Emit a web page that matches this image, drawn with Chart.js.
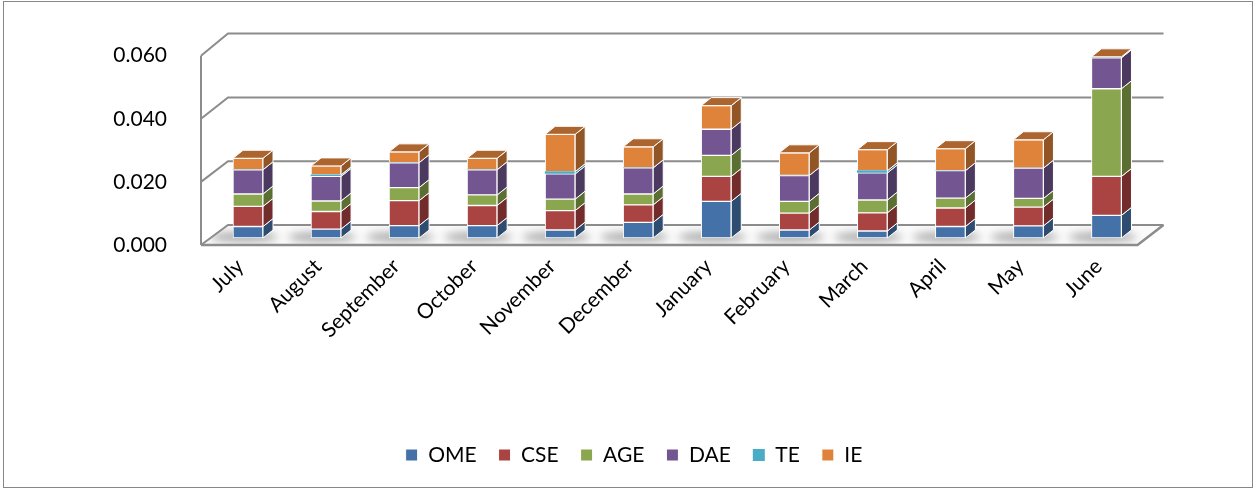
<!DOCTYPE html>
<html><head><meta charset="utf-8">
<script src="https://cdn.jsdelivr.net/npm/chart.js@4.4.0/dist/chart.umd.min.js"></script>
<style>html,body{margin:0;padding:0;background:#fff}canvas{display:block}</style>
</head><body>
<canvas id="c" width="1257" height="490"></canvas>
<script>
// ---- data ----
const months = ['July','August','September','October','November','December','January','February','March','April','May','June'];
const seriesNames = ['OME','CSE','AGE','DAE','TE','IE'];
const OME = [0.0036,0.0028,0.0039,0.0039,0.0025,0.0049,0.0115,0.0025,0.0022,0.0036,0.0038,0.0071];
const CSE = [0.0063,0.0055,0.0078,0.0063,0.0061,0.0055,0.0078,0.0053,0.0057,0.0058,0.0059,0.0122];
const AGE = [0.0039,0.0033,0.0041,0.0033,0.0036,0.0034,0.0066,0.0037,0.0040,0.0031,0.0027,0.0275];
const DAE = [0.0076,0.0077,0.0078,0.0079,0.0079,0.0082,0.0082,0.0081,0.0085,0.0086,0.0095,0.0097];
const TE  = [0,0.0005,0,0,0.0007,0,0,0,0.0007,0,0,0];
const IE  = [0.0036,0.0028,0.0034,0.0036,0.0117,0.0066,0.0074,0.0071,0.0066,0.0069,0.0089,0.0003];
const yTicks = [0, 0.02, 0.04, 0.06];

// ---- styles ----
const frontColors = ['#4472A8','#AA4442','#8AA64E','#735691','#4BACC6','#DF833B'];
const sideColors  = ['#2D4C70','#712C2B','#5C6F33','#4C3960','#31778A','#925626'];
const topColors   = ['#3A6292','#944040','#76904A','#634B7E','#3F93A8','#AC652E'];
const SIDE_DX = 10, SIDE_DY = -8;

const values = [OME, CSE, AGE, DAE, TE, IE];

const threeD = {
  id: 'threeD',
  beforeDraw(chart) {
    const c = chart.ctx;
    c.save();
    c.fillStyle = '#fff';
    c.fillRect(0, 0, chart.width, chart.height);
    c.strokeStyle = '#878787';
    c.lineWidth = 1;
    c.strokeRect(3.5, 1.5, chart.width - 8, chart.height - 4);
    c.restore();
  },
  beforeDatasetsDraw(chart) {
    const {ctx, chartArea: a, scales} = chart;
    const y = scales.y, yl = scales.yl, x = scales.x;
    const fl = a.left - 8, fr = a.right - 8, bl = a.left + 19, br = a.right + 18;
    const fy = v => yl.getPixelForValue(v);
    const by = v => y.getPixelForValue(v) - 13;
    ctx.save();
    // floor
    ctx.beginPath();
    ctx.moveTo(fl, fy(0)); ctx.lineTo(fr, fy(0)); ctx.lineTo(br, by(0)); ctx.lineTo(bl, by(0)); ctx.closePath();
    ctx.fillStyle = '#fbfbfb';
    ctx.fill();
    ctx.save();
    ctx.clip();
    ctx.filter = 'blur(4px)';
    ctx.fillStyle = 'rgba(0,0,0,0.32)';
    months.forEach((m, i) => {
      const cx = x.getPixelForValue(i);
      ctx.beginPath();
      ctx.ellipse(cx - 4, y.getPixelForValue(0) - 1, 34, 5, 0, 0, Math.PI * 2);
      ctx.fill();
    });
    ctx.restore();
    // gridlines on left wall and back wall
    ctx.strokeStyle = '#8c8c8c';
    ctx.lineWidth = 2;
    yTicks.forEach(v => {
      ctx.beginPath();
      ctx.moveTo(fl, fy(v)); ctx.lineTo(bl, by(v)); ctx.lineTo(br, by(v));
      ctx.stroke();
    });
    ctx.beginPath();
    ctx.moveTo(fl, fy(0)); ctx.lineTo(fl, fy(yTicks[yTicks.length - 1]));
    ctx.stroke();
    ctx.lineWidth = 2.5;
    ctx.beginPath();
    ctx.moveTo(fl, fy(0)); ctx.lineTo(fr, fy(0)); ctx.lineTo(br, by(0));
    ctx.stroke();
    ctx.restore();
  },
  afterDatasetsDraw(chart) {
    const ctx = chart.ctx;
    ctx.save();
    ctx.strokeStyle = '#ffffff';
    ctx.lineWidth = 1;
    ctx.lineJoin = 'round';
    months.forEach((m, i) => {
      let topP = null, topD = -1;
      chart.data.datasets.forEach((ds, d) => {
        const el = chart.getDatasetMeta(d).data[i];
        const p = el.getProps(['x', 'y', 'base', 'width'], true);
        const t = Math.min(p.y, p.base), b = Math.max(p.y, p.base);
        const xr = p.x + p.width / 2;
        if (b - t > 0.2) {
          ctx.beginPath();
          ctx.moveTo(xr, t); ctx.lineTo(xr + SIDE_DX, t + SIDE_DY);
          ctx.lineTo(xr + SIDE_DX, b + SIDE_DY); ctx.lineTo(xr, b); ctx.closePath();
          ctx.fillStyle = sideColors[d];
          ctx.fill();
          ctx.stroke();
        }
        if (ds.data[i] > 0) { topP = p; topD = d; }
      });
      if (topP) {
        const t = Math.min(topP.y, topP.base);
        const xl = topP.x - topP.width / 2, xr = topP.x + topP.width / 2;
        ctx.beginPath();
        ctx.moveTo(xl, t); ctx.lineTo(xl + SIDE_DX, t + SIDE_DY);
        ctx.lineTo(xr + SIDE_DX, t + SIDE_DY); ctx.lineTo(xr, t); ctx.closePath();
        ctx.fillStyle = topColors[topD];
        ctx.fill();
        ctx.stroke();
      }
    });
    ctx.restore();
  }
};

const datasets = seriesNames.map((name, d) => ({
  label: name,
  data: values[d],
  backgroundColor: frontColors[d],
  borderColor: '#ffffff',
  borderWidth: name === 'TE' ? 0 : 1,
  borderSkipped: false,
  barThickness: 30,
  yAxisID: 'y',
  xAxisID: 'x'
}));

new Chart(document.getElementById('c'), {
  type: 'bar',
  data: { labels: months, datasets },
  plugins: [threeD],
  options: {
    responsive: false,
    animation: false,
    devicePixelRatio: 1,
    layout: { padding: { left: 11, right: 0, top: 43.5, bottom: 14.5 } },
    plugins: {
      tooltip: { enabled: false },
      legend: {
        position: 'bottom',
        labels: {
          font: { family: 'Lato', size: 21 },
          color: '#000',
          boxWidth: 12,
          boxHeight: 12,
          padding: 22
        }
      }
    },
    scales: {
      x: {
        stacked: true,
        offset: true,
        grid: { display: false },
        border: { display: false },
        ticks: {
          font: { family: 'Lato', size: 21 },
          color: '#000',
          minRotation: 45,
          maxRotation: 45,
          autoSkip: false,
          padding: 8,
          labelOffset: -8
        },
        afterFit: s => { s.height = 184.5; }
      },
      y: { stacked: true, min: 0, max: 0.06, display: false },
      yl: {
        type: 'linear',
        position: 'left',
        min: 0.00222,
        max: 0.06287,
        grid: { display: false },
        border: { display: false },
        afterBuildTicks: s => { s.ticks = yTicks.map(v => ({ value: v })); },
        ticks: {
          font: { family: 'Lato', size: 21 },
          color: '#000',
          padding: 34,
          callback: v => Number(v).toFixed(3)
        },
        afterFit: s => { s.width = 198; }
      },
      yr: {
        type: 'linear',
        position: 'right',
        display: true,
        grid: { display: false },
        border: { display: false },
        ticks: { display: false },
        afterFit: s => { s.width = 111.5; }
      }
    }
  }
});
</script>
</body></html>
